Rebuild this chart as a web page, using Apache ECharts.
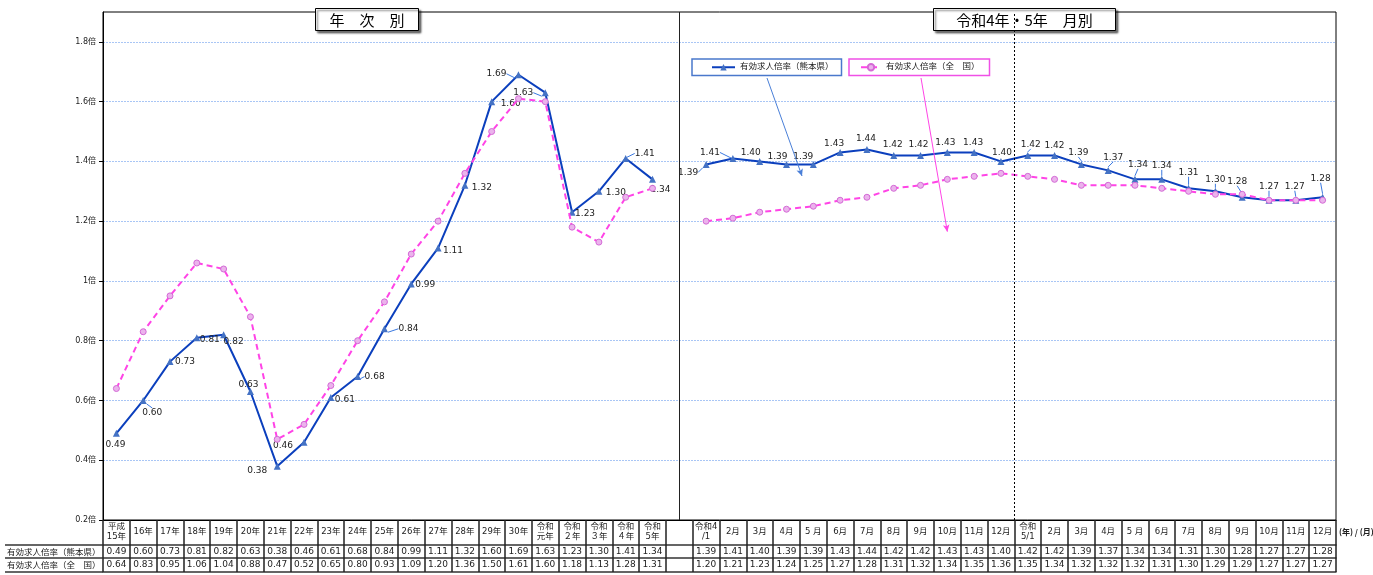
<!DOCTYPE html>
<html><head><meta charset="utf-8">
<script src="https://cdn.jsdelivr.net/npm/echarts@6/dist/echarts.min.js"></script>
<style>html,body{margin:0;padding:0;background:#fff}#c{width:1373px;height:575px}</style>
</head><body><div id="c"></div><script>
// ---- data ----
const annualCategories = ['平成\n15年','16年','17年','18年','19年','20年','21年','22年','23年','24年','25年','26年','27年','28年','29年','30年','令和\n元年','令和\n２年','令和\n３年','令和\n４年','令和\n5年'];
const month2022Categories = ['令和4\n/1','2月','3月','4月','5 月','6月','7月','8月','9月','10月','11月','12月'];
const month2023Categories = ['令和\n5/1','2月','3月','4月','5 月','6月','7月','8月','9月','10月','11月','12月'];
const annualKumamoto = [0.49,0.60,0.73,0.81,0.82,0.63,0.38,0.46,0.61,0.68,0.84,0.99,1.11,1.32,1.60,1.69,1.63,1.23,1.30,1.41,1.34];
const annualNational = [0.64,0.83,0.95,1.06,1.04,0.88,0.47,0.52,0.65,0.80,0.93,1.09,1.20,1.36,1.50,1.61,1.60,1.18,1.13,1.28,1.31];
const month2022Kumamoto = [1.39,1.41,1.40,1.39,1.39,1.43,1.44,1.42,1.42,1.43,1.43,1.40];
const month2022National = [1.20,1.21,1.23,1.24,1.25,1.27,1.28,1.31,1.32,1.34,1.35,1.36];
const month2023Kumamoto = [1.42,1.42,1.39,1.37,1.34,1.34,1.31,1.30,1.28,1.27,1.27,1.28];
const month2023National = [1.35,1.34,1.32,1.32,1.32,1.31,1.30,1.29,1.29,1.27,1.27,1.27];
const seriesNames = ['有効求人倍率（熊本県）','有効求人倍率（全　国）'];
const yTicks = {min:0.2, max:1.9, interval:0.2};

// ---- layout / style (not data) ----
const labelOffsets = [
 [-1,11],[9,12],[15,0],[13,2],[10,7],[-2,-7],[-20,4],[-21,3],[14,2],[17,0],[24,0],[14,1],[15,3],[17,2],[19,2],[-22,-1],[-22,0],[13,1],[17,1],[19,-5],[8,10],
 null,
 [-18,8],[-23,-6],[-9,-9],[-9,-8],[-10,-8],[-6,-9],[-1,-11],[-1,-11],[-2,-11],[-2,-10],[-1,-10],[1,-9],
 [3,-11],[0,-10],[-3,-12],[5,-13],[3,-15],[0,-14],[0,-16],[0,-12],[-5,-16],[0,-14],[-1,-14],[-2,-19]
];
const leaderLines = [1,9,10,15,16,19,22,23,34,36,37,38,39,40,41,42,43,44,45];
const FF = "'DejaVu Sans','Noto Sans CJK JP',sans-serif";
const BLUE_LINE = '#0b3fbd', BLUE_MARK = '#4472c4', PINK = '#ff44e6';

const categories = annualCategories.concat([''], month2022Categories, month2023Categories);
const kumamoto = annualKumamoto.concat([null], month2022Kumamoto, month2023Kumamoto);
const national = annualNational.concat([null], month2022National, month2023National);
const gapIndex = annualCategories.length;
const yearBoundary = gapIndex + month2022Categories.length + 0.5;

const fmt = v => (v == null ? '' : v.toFixed(2));

const kumamotoData = kumamoto.map((v, i) => v == null ? null : ({
  value: v,
  labelLine: {show: leaderLines.indexOf(i) >= 0}
}));

const tableAxis = (extra) => Object.assign({
  type:'category', data: categories, boundaryGap:true, position:'bottom', gridIndex:0
}, extra);

const chart = echarts.init(document.getElementById('c'), null, {renderer:'canvas'});
chart.setOption({
  animation:false,
  backgroundColor:'#fff',
  textStyle:{fontFamily:FF},
  grid:{left:103, right:37, top:12, bottom:55, show:true, borderColor:'#000', borderWidth:1, containLabel:false},
  legend:[
    {data:[seriesNames[0]], left:692, top:59, selectedMode:false, borderColor:'#4a78cc', borderWidth:1.5, backgroundColor:'#fff',
     padding:[4,8,4,19], itemWidth:23, itemHeight:8, textStyle:{fontSize:8.5, color:'#222', fontFamily:FF}},
    {data:[seriesNames[1]], left:849, top:59, selectedMode:false, borderColor:'#f050e6', borderWidth:1.5, backgroundColor:'#fff',
     padding:[4,10,4,11], itemWidth:20, itemHeight:8, textStyle:{fontSize:8.5, color:'#222', fontFamily:FF}}
  ],
  xAxis:[
    tableAxis({
      axisLine:{lineStyle:{color:'#000', width:1}},
      axisTick:{show:true, interval:0, length:25, lineStyle:{color:'#222', width:1.5}},
      axisLabel:{interval:0, margin:12, verticalAlign:'middle', fontSize:8.5, lineHeight:10, color:'#222', fontFamily:FF},
      splitLine:{show:false}
    }),
    tableAxis({
      offset:25,
      axisLine:{lineStyle:{color:'#333', width:1.5}},
      axisTick:{show:true, interval:0, length:13, lineStyle:{color:'#222', width:1.5}},
      axisLabel:{interval:0, margin:6.5, verticalAlign:'middle', fontSize:9, color:'#222', fontFamily:FF,
        formatter:(v, i) => fmt(kumamoto[i])},
      splitLine:{show:false}
    }),
    tableAxis({
      offset:38,
      axisLine:{lineStyle:{color:'#333', width:1.5}},
      axisTick:{show:true, interval:0, length:14, lineStyle:{color:'#222', width:1.5}},
      axisLabel:{interval:0, margin:7, verticalAlign:'middle', fontSize:9, color:'#222', fontFamily:FF,
        formatter:(v, i) => fmt(national[i])},
      splitLine:{show:false}
    }),
    tableAxis({
      offset:52,
      axisLine:{lineStyle:{color:'#333', width:1.5}},
      axisTick:{show:false}, axisLabel:{show:false}, splitLine:{show:false}
    }),
    {type:'value', min:-0.5, max:categories.length - 0.5, show:false, gridIndex:0}
  ],
  yAxis:{
    type:'value', min:yTicks.min, max:yTicks.max, interval:yTicks.interval,
    axisLine:{show:true, onZero:false, lineStyle:{color:'#000', width:1}},
    axisTick:{show:true, length:4, lineStyle:{color:'#000'}},
    axisLabel:{fontSize:8, color:'#222', margin:7, showMaxLabel:false, fontFamily:FF,
      formatter: v => (Math.round(v*10)/10) + '倍'},
    splitLine:{show:true, showMinLine:false, showMaxLine:false, lineStyle:{color:'#a9c6f5', type:[2,1], width:1}}
  },
  series:[
    {
      name:seriesNames[0], type:'line', xAxisIndex:0, data:kumamotoData, connectNulls:false,
      symbol:'triangle', symbolSize:7, itemStyle:{color:BLUE_MARK},
      lineStyle:{color:BLUE_LINE, width:2},
      label:{show:true, position:'inside', fontSize:9, color:'#222', fontFamily:FF, formatter:p => fmt(p.value)},
      labelLine:{show:false, lineStyle:{color:'#3a78e0', width:1}},
      labelLayout: p => { const o = labelOffsets[p.dataIndex] || [0,0]; return {dx:o[0], dy:o[1]}; },
      emphasis:{disabled:true},
      markLine:{
        silent:true, animation:false, symbol:['none','none'],
        label:{show:false},
        data:[
          [{xAxis:gapIndex, yAxis:yTicks.min, lineStyle:{color:'#222', type:'solid', width:1}}, {xAxis:gapIndex, yAxis:yTicks.max}],
          [{x:767, y:78, lineStyle:{color:'#4a7fd8', type:'solid', width:1}}, {x:802, y:176, symbol:'arrow', symbolSize:[5,7]}],
          [{x:921, y:78, lineStyle:{color:PINK, type:'solid', width:1}}, {coord:[31, 1.165], symbol:'arrow', symbolSize:[5,7]}]
        ]
      },
      z:3
    },
    {
      name:seriesNames[1], type:'line', xAxisIndex:0, data:national, connectNulls:false,
      symbol:'circle', symbolSize:6, itemStyle:{color:'#ebb3ec', borderColor:'#d46ad6', borderWidth:1},
      lineStyle:{color:PINK, width:2, type:[6,4]},
      emphasis:{disabled:true},
      z:4
    },
    {
      name:'boundary', type:'line', xAxisIndex:4, data:[[yearBoundary, 1]], symbol:'none', showSymbol:false,
      lineStyle:{opacity:0}, silent:true,
      markLine:{silent:true, symbol:['none','none'], label:{show:false},
        lineStyle:{color:'#000', type:[2,2], width:1},
        data:[[{coord:[yearBoundary, yTicks.min]}, {coord:[yearBoundary, yTicks.max]}]]}
    }
  ],
  graphic:[
    {type:'group', left:315, top:8, z:100, children:[
      {type:'rect', shape:{x:0, y:0, width:103, height:22}, style:{fill:'#fff', stroke:'#000', lineWidth:1,
        shadowBlur:2, shadowOffsetX:2, shadowOffsetY:2, shadowColor:'rgba(0,0,0,0.55)'}},
      {type:'text', x:51.5, y:11.5, style:{text:'年　次　別', font:"15px 'Noto Sans CJK JP'", align:'center', verticalAlign:'middle', fill:'#000'}}
    ]},
    {type:'group', left:933, top:8, z:100, children:[
      {type:'rect', shape:{x:0, y:0, width:182, height:22}, style:{fill:'#fff', stroke:'#000', lineWidth:1,
        shadowBlur:2, shadowOffsetX:2, shadowOffsetY:2, shadowColor:'rgba(0,0,0,0.55)'}},
      {type:'text', x:91, y:11.5, style:{text:'令和4年・5年　月別', font:"15px 'Noto Sans CJK JP'", align:'center', verticalAlign:'middle', fill:'#000'}}
    ]},
    {type:'line', z:50, silent:true, shape:{x1:5, y1:545, x2:103, y2:545}, style:{stroke:'#333', lineWidth:1.5}},
    {type:'line', z:50, silent:true, shape:{x1:5, y1:558, x2:103, y2:558}, style:{stroke:'#333', lineWidth:1.5}},
    {type:'line', z:50, silent:true, shape:{x1:5, y1:572, x2:103, y2:572}, style:{stroke:'#333', lineWidth:1.5}},
    {type:'text', z:50, silent:true, x:7, y:551.5, style:{text:seriesNames[0], font:"8.5px 'Noto Sans CJK JP'", verticalAlign:'middle', fill:'#222'}},
    {type:'text', z:50, silent:true, x:7, y:565, style:{text:seriesNames[1], font:"8.5px 'Noto Sans CJK JP'", verticalAlign:'middle', fill:'#222'}},
    {type:'text', z:50, silent:true, x:1339, y:532, style:{text:'(年) / (月)', font:"bold 8px 'Noto Sans CJK JP'", verticalAlign:'middle', fill:'#222'}}
  ]
});
</script></body></html>
